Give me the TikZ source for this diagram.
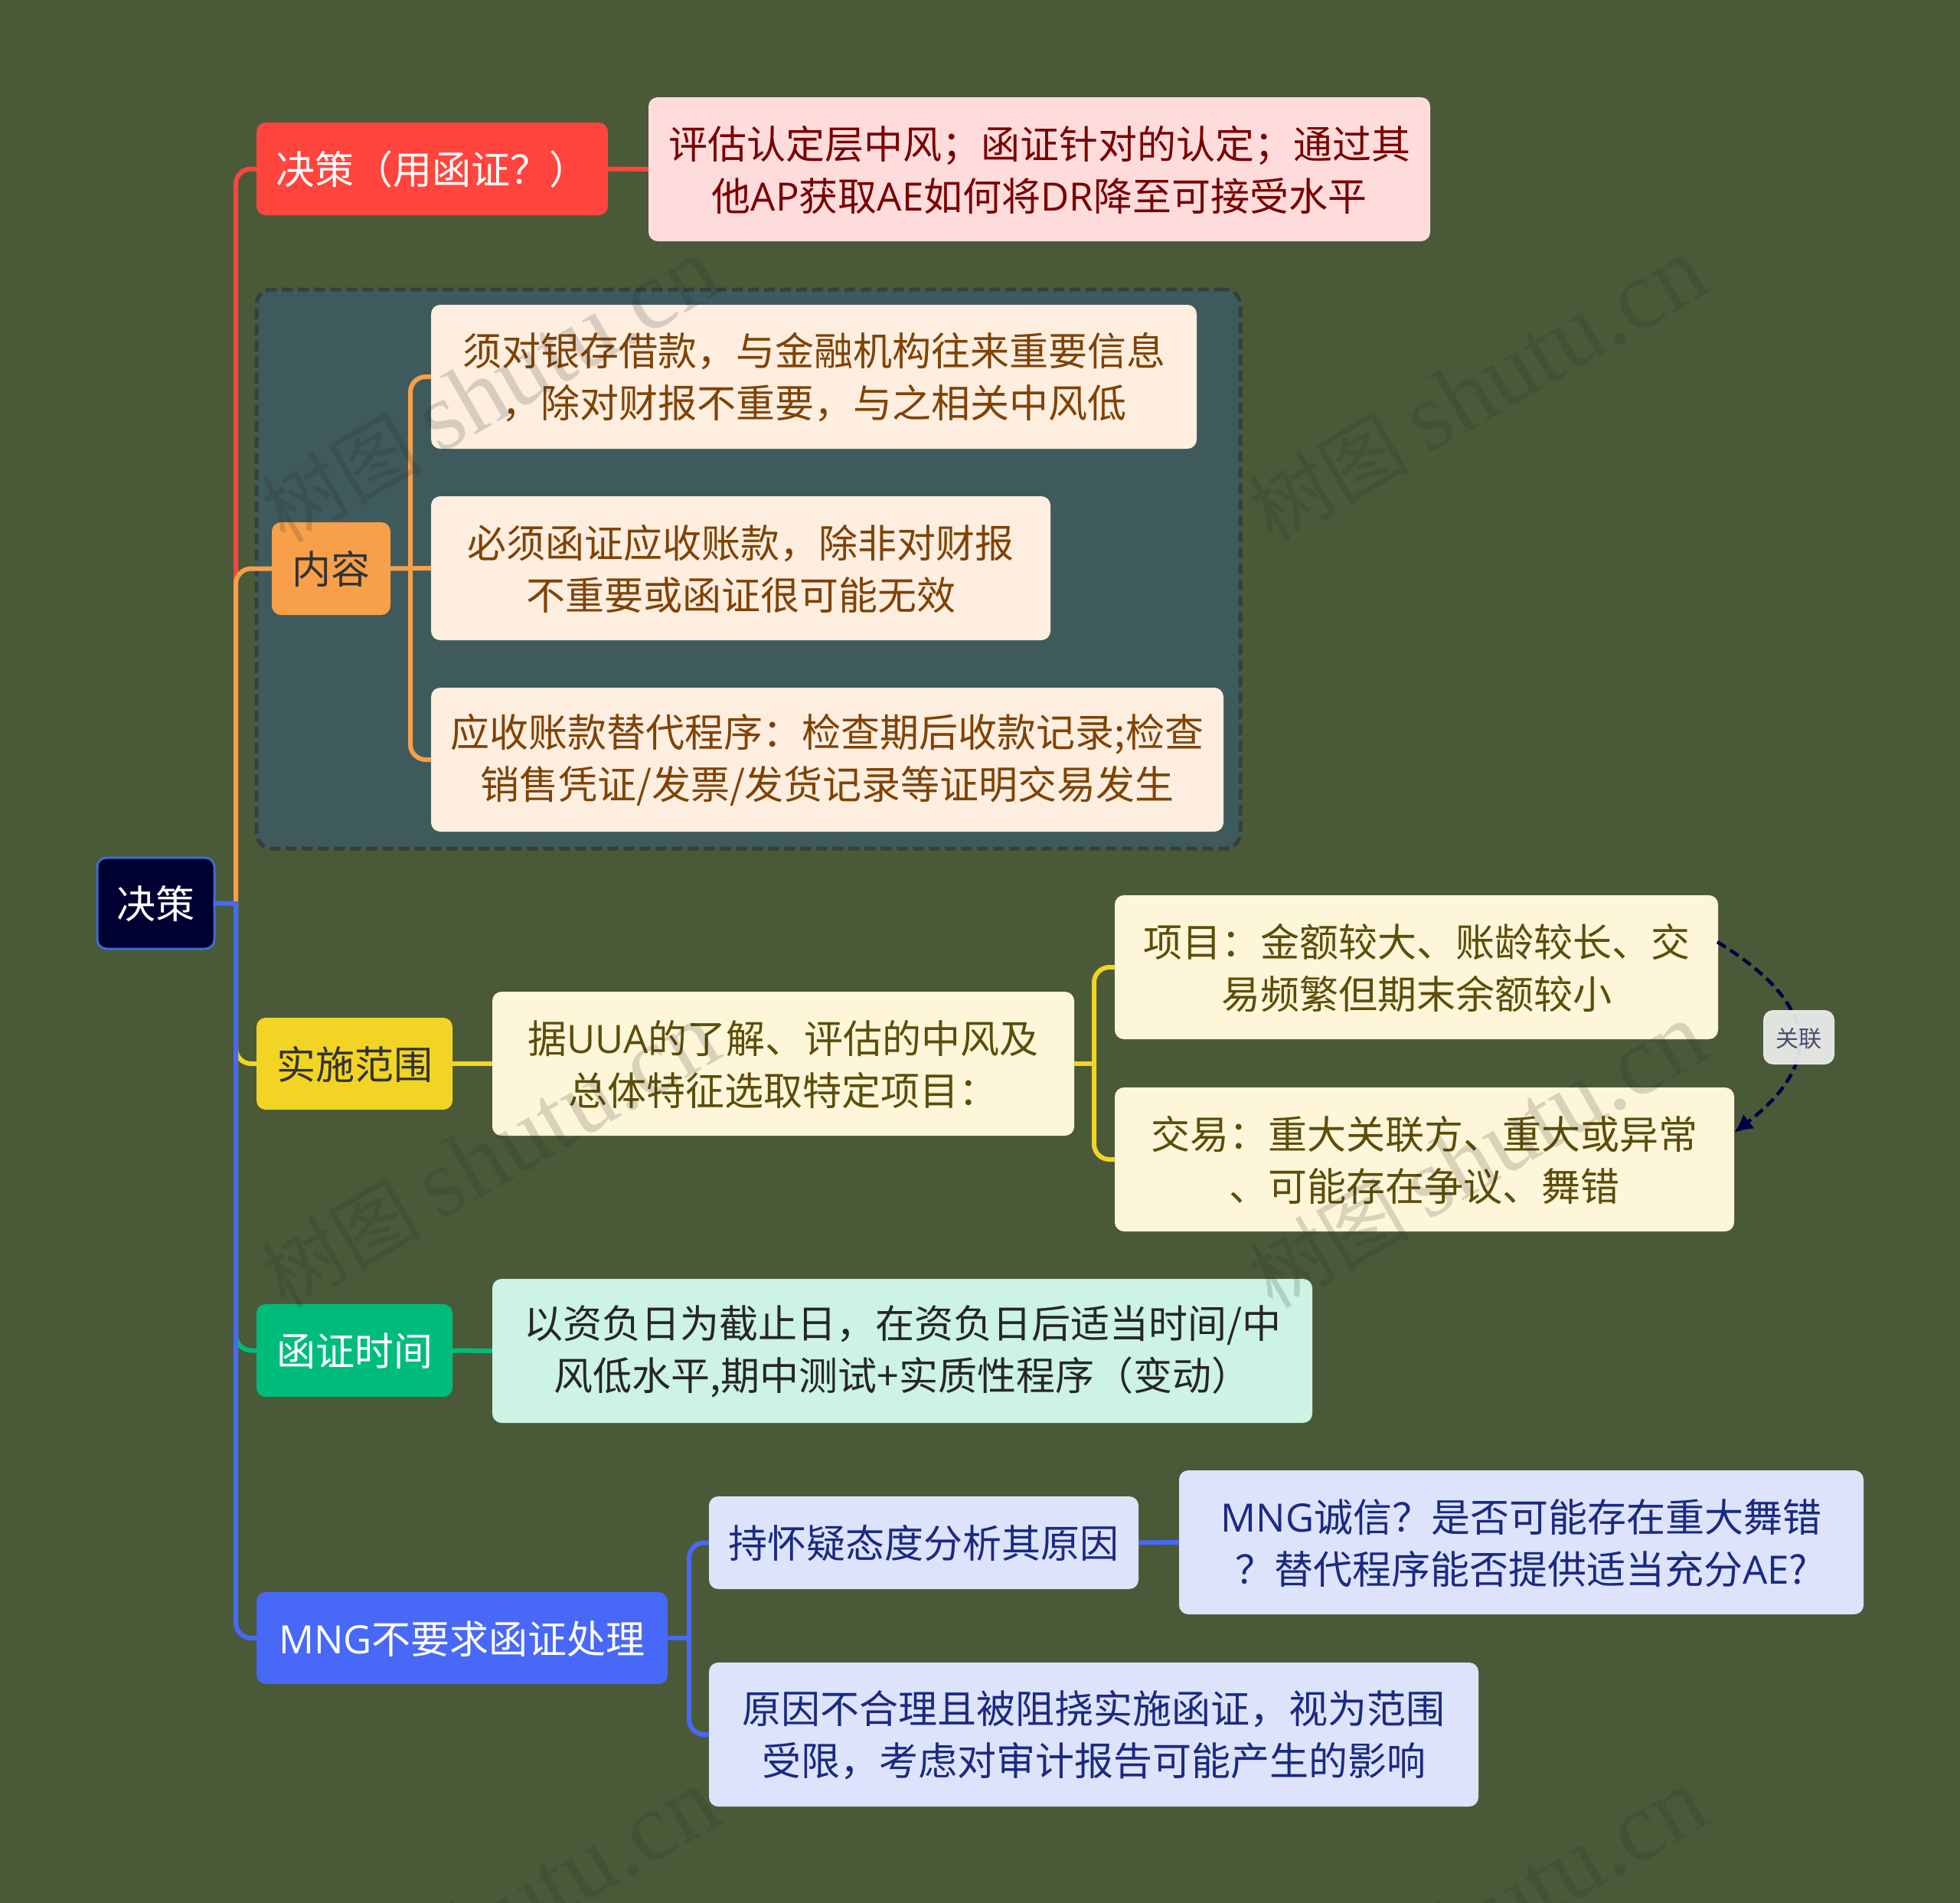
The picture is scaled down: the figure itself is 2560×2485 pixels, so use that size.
\documentclass[tikz,border=0pt]{standalone}
\usepackage{fontspec}
\setmainfont{Noto Sans CJK SC}
\newfontfamily\wmserif{Liberation Serif}
\newfontfamily\lat{Open Sans}
\usetikzlibrary{arrows.meta}
\definecolor{bgc}{HTML}{4A5A38}
\definecolor{groupc}{HTML}{3F5A5D}
\definecolor{redc}{HTML}{FF453D}
\definecolor{redl}{HTML}{FFDCDC}
\definecolor{redt}{HTML}{7A0000}
\definecolor{orc}{HTML}{F79F49}
\definecolor{orl}{HTML}{FDEEE0}
\definecolor{ort}{HTML}{7F4306}
\definecolor{yec}{HTML}{F2D424}
\definecolor{yel}{HTML}{FDF6D8}
\definecolor{yet}{HTML}{5C4D0A}
\definecolor{grc}{HTML}{00BC7B}
\definecolor{grl}{HTML}{CCF3E4}
\definecolor{blc}{HTML}{4868F8}
\definecolor{bll}{HTML}{DCE3FB}
\definecolor{blt}{HTML}{1B2A80}
\definecolor{navy}{HTML}{000033}
\definecolor{rootb}{HTML}{3A6ED0}
\definecolor{dashc}{HTML}{363E3E}
\tikzset{
  bx/.style={rectangle,rounded corners=12pt,align=center,inner sep=0pt,
    font=\fontsize{51}{68}\selectfont},
  oneline/.style={bx,execute at begin node={\rule{0pt}{45pt}}},
  twoline/.style={bx,execute at begin node={\rule{0pt}{113pt}}},
  sz/.style 2 args={minimum width=#1pt,minimum height=#2pt},
  conn/.style={line width=6pt,rounded corners=20pt},
  wm/.style={rotate=30,text=black!85,text opacity=.17,inner sep=0pt,font=\fontsize{105}{112}\selectfont},
}
\newcommand{\wmtext}{树图 {\wmserif\fontsize{128}{112}\selectfont shutu.cn}}
\begin{document}
\begin{tikzpicture}[x=1pt,y=-1pt]
\useasboundingbox[fill=bgc] (0,0) rectangle (2560,2485);
% group background
\node[bx,sz={1285}{730},fill=groupc,draw=dashc,line width=5pt,dash pattern=on 14pt off 7pt,rounded corners=20pt] (grp) at (977.5,743) {};
% nodes
\node[oneline,sz={153}{119},fill=navy,draw=rootb,line width=3pt,text=white] (root) at (203.5,1179.5) {决策};
\node[oneline,sz={459}{121},fill=redc,text=white] (nred) at (564.5,220.5) {决策（用函证？）};
\node[twoline,sz={1021}{188},fill=redl,text=redt] (rc) at (1357.5,221) {评估认定层中风；函证针对的认定；通过其\\他{\lat AP}获取{\lat AE}如何将{\lat DR}降至可接受水平};
\node[oneline,sz={155}{121},fill=orc,text=black!80] (nei) at (432.5,742.5) {内容};
\node[twoline,sz={1000}{188},fill=orl,text=ort] (oa) at (1063,492) {须对银存借款，与金融机构往来重要信息\\，除对财报不重要，与之相关中风低};
\node[twoline,sz={809}{188},fill=orl,text=ort] (ob) at (967.5,742) {必须函证应收账款，除非对财报\\不重要或函证很可能无效};
\node[twoline,sz={1035}{188},fill=orl,text=ort] (oc) at (1080.5,992) {应收账款替代程序：检查期后收款记录;检查\\销售凭证/发票/发货记录等证明交易发生};
\node[oneline,sz={256}{120},fill=yec,text=black!80] (nye) at (463,1389) {实施范围};
\node[twoline,sz={760}{188},fill=yel,text=yet] (ya) at (1023,1389) {据{\lat UUA}的了解、评估的中风及\\总体特征选取特定项目：};
\node[twoline,sz={788}{188},fill=yel,text=yet] (yb) at (1850,1263) {项目：金额较大、账龄较长、交\\易频繁但期末余额较小};
\node[twoline,sz={809}{188},fill=yel,text=yet] (yc) at (1860.5,1514) {交易：重大关联方、重大或异常\\、可能存在争议、舞错};
\node[oneline,sz={256}{121},fill=grc,text=white] (ngr) at (463,1763.5) {函证时间};
\node[twoline,sz={1071}{188},fill=grl,text=black!85] (ga) at (1178.5,1764) {以资负日为截止日，在资负日后适当时间/中\\风低水平,期中测试+实质性程序（变动）};
\node[oneline,sz={537}{120},fill=blc,text=white] (nbl) at (603.5,2139) {{\lat MNG}不要求函证处理};
\node[oneline,sz={561}{121},fill=bll,text=blt] (ba) at (1206.5,2014.5) {持怀疑态度分析其原因};
\node[twoline,sz={894}{188},fill=bll,text=blt] (bc) at (1987,2014) {{\lat MNG}诚信？是否可能存在重大舞错\\？替代程序能否提供适当充分{\lat AE}?};
\node[twoline,sz={1005}{188},fill=bll,text=blt] (bb) at (1428.5,2265) {原因不合理且被阻挠实施函证，视为范围\\受限，考虑对审计报告可能产生的影响};
% connectors
\coordinate (tr) at (308,1180);
\coordinate (os) at (536,742);
\coordinate (ys) at (1429,1389);
\coordinate (bs) at (900,2139);
\draw[conn,redc] (tr) |- (nred.west);
\draw[conn,redc] (nred.east) -- (rc.west);
\draw[conn,orc] (tr) |- (nei.west);
\draw[conn,orc] (nei.east) -- (ob.west);
\draw[conn,orc] (os) |- (oa.west);
\draw[conn,orc] (os) |- (oc.west);
\draw[conn,yec] (tr) |- (nye.west);
\draw[conn,yec] (nye.east) -- (ya.west);
\draw[conn,yec] (ya.east) -- (ys);
\draw[conn,yec] (ys) |- (yb.west);
\draw[conn,yec] (ys) |- (yc.west);
\draw[conn,grc] (tr) |- (ngr.west);
\draw[conn,grc] (ngr.east) -- (ga.west);
\draw[conn,blc] (tr) |- (nbl.west);
\draw[line width=6pt,blc,line cap=rect] (root.east) -- (tr);
\draw[conn,blc] (nbl.east) -- (bs);
\draw[conn,blc] (bs) |- (ba.west);
\draw[conn,blc] (bs) |- (bb.west);
\draw[conn,blc] (ba.east) -- (bc.west);
% relation
\coordinate (cs) at (2243,1230);
\coordinate (ce) at (2265,1479);
\draw[line width=4.5pt,navy!90!blue,dash pattern=on 13pt off 7pt,-{Latex[length=24pt,width=24pt]}] (cs) .. controls (2384,1316) and (2375,1394) .. (ce);
\node[bx,sz={91}{69},fill=black!3!white,fill opacity=.88,text opacity=1,draw=white!90!black,line width=2pt,text=navy!70!white,font=\fontsize{30}{36}\selectfont,execute at begin node={\rule{0pt}{28pt}}] (rel) at (2349.5,1354.5) {关联};
% watermarks
\begin{scope}
\clip (0,0) rectangle (2560,2485);
\node[wm] (w1) at (640,510) {\wmtext};
\node[wm] (w2) at (1930,510) {\wmtext};
\node[wm] (w3) at (640,1510) {\wmtext};
\node[wm] (w4) at (1930,1510) {\wmtext};
\node[wm] (w5) at (640,2510) {\wmtext};
\node[wm] (w6) at (1930,2510) {\wmtext};
\end{scope}
\end{tikzpicture}
\end{document}
